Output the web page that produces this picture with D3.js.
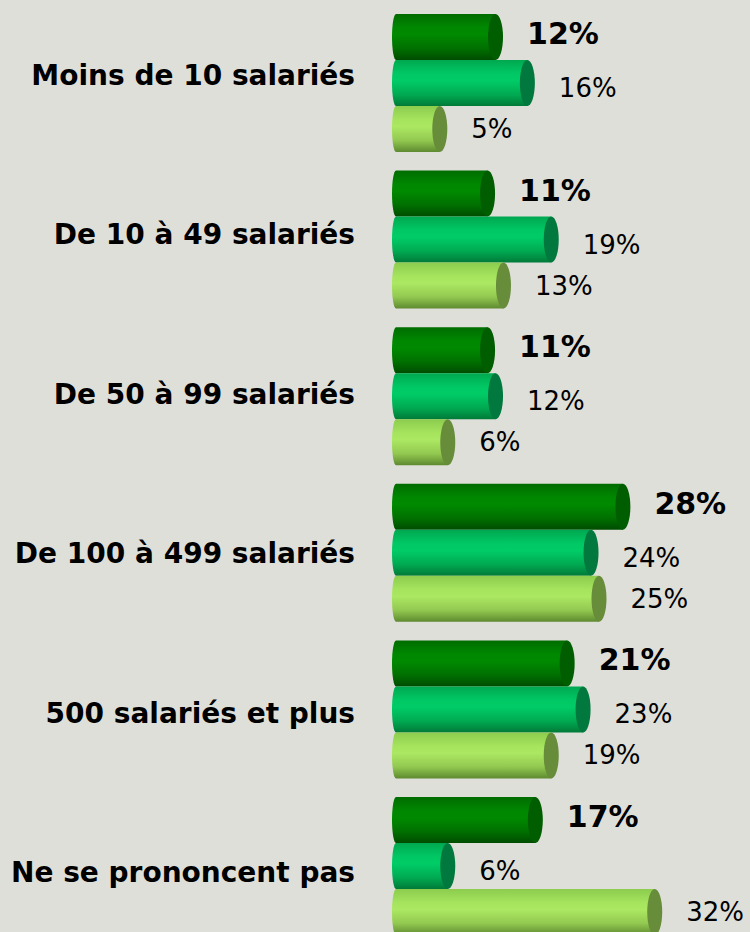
<!DOCTYPE html>
<html lang="fr">
<head>
<meta charset="UTF-8">
<title>Taille des entreprises</title>
<script src="https://d3js.org/d3.v7.min.js"></script>
<style>
  html, body { margin: 0; padding: 0; background: #dfdfda; }
  svg { display: block; }
  .cat { font-family: "DejaVu Sans", Verdana, sans-serif; font-weight: bold; font-size: 28px; fill: #000; }
  .val { font-family: "DejaVu Sans", Verdana, sans-serif; font-size: 26px; fill: #000; }
  .val.bold { font-weight: bold; font-size: 30px; }
</style>
</head>
<body>
<svg id="chart"></svg>
<script>
  // data
  const categories = ["Moins de 10 salariés", "De 10 à 49 salariés", "De 50 à 99 salariés",
                      "De 100 à 499 salariés", "500 salariés et plus", "Ne se prononcent pas"];
  const series1 = [12, 11, 11, 28, 21, 17];
  const series2 = [16, 19, 12, 24, 23, 6];
  const series3 = [5, 13, 6, 25, 19, 32];
  const seriesKeys = ["s1", "s2", "s3"];

  const width = 750, height = 932;

  // style per series: body gradient stops, cap colour, label look
  const looks = {
    s1: { stops: ["#006c00", "#008800", "#008a00", "#007000", "#004c00"], cap: "#005e00", bold: true, dy: 7 },
    s2: { stops: ["#00a850", "#00c864", "#00cc66", "#00aa52", "#007a38"], cap: "#00783e", bold: false, dy: 14 },
    s3: { stops: ["#8ccc4e", "#a6e45e", "#ace862", "#92c850", "#5e8a30"], cap: "#678c3a", bold: false, dy: 9 }
  };

  const svg = d3.select("#chart").attr("width", width).attr("height", height);

  const defs = svg.append("defs");
  seriesKeys.forEach(k => {
    const g = defs.append("linearGradient").attr("id", "grad-" + k)
      .attr("x1", 0).attr("y1", 0).attr("x2", 0).attr("y2", 1);
    const offs = [0, 0.3, 0.45, 0.75, 1];
    looks[k].stops.forEach((c, i) => g.append("stop").attr("offset", offs[i]).attr("stop-color", c));
  });

  const rows = categories.map((c, i) => ({ cat: c, s1: series1[i], s2: series2[i], s3: series3[i] }));

  const y = d3.scaleBand().domain(categories).range([14, 935]).paddingInner(0.119).paddingOuter(0);
  const ySub = d3.scaleBand().domain(seriesKeys).range([0, y.bandwidth()]).padding(0);
  // category labels sit on their own, slightly wider spacing
  const yLabel = d3.scalePoint().domain(categories).range([85, 882]);
  const x = d3.scaleLinear().domain([0, 32]).range([400, 400 + 7.96 * 32]);
  const left = 392, capRx = 7.5;

  svg.selectAll("text.cat").data(categories).join("text")
    .attr("class", "cat")
    .attr("x", 355)
    .attr("y", d => yLabel(d))
    .attr("text-anchor", "end")
    .text(d => d);

  const groups = svg.selectAll("g.group").data(rows).join("g")
    .attr("class", "group")
    .attr("transform", d => `translate(0,${y(d.cat)})`);

  const bars = groups.selectAll("g.bar")
    .data(d => seriesKeys.map(k => ({ key: k, value: d[k] })))
    .join("g")
    .attr("class", "bar")
    .attr("transform", d => `translate(0,${ySub(d.key)})`);

  const h = ySub.bandwidth();
  const ry = h / 2;

  bars.append("path")
    .attr("d", d => {
      const xe = x(d.value);
      return `M${xe},0 L${left + 4},0 A4,${ry} 0 0 0 ${left + 4},${h} L${xe},${h} Z`;
    })
    .attr("fill", d => `url(#grad-${d.key})`);

  bars.append("ellipse")
    .attr("cx", d => x(d.value))
    .attr("cy", ry)
    .attr("rx", capRx)
    .attr("ry", ry)
    .attr("fill", d => looks[d.key].cap);

  bars.append("text")
    .attr("class", d => looks[d.key].bold ? "val bold" : "val")
    .attr("x", d => x(d.value) + capRx + 24)
    .attr("y", d => ry + looks[d.key].dy)
    .text(d => d.value + "%");
</script>
</body>
</html>
